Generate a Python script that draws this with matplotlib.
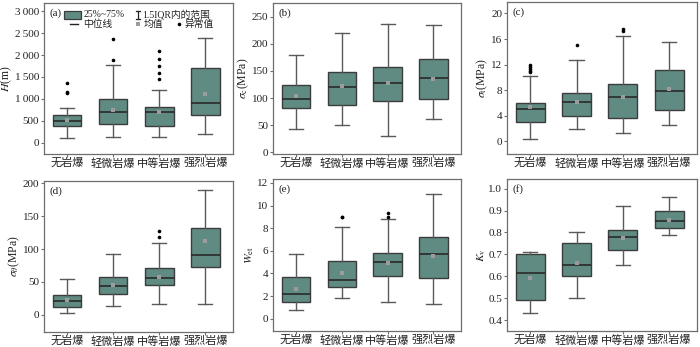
import numpy as np
import matplotlib
matplotlib.use('Agg')
import matplotlib.pyplot as plt
from matplotlib.patches import Rectangle
from matplotlib.lines import Line2D

plt.rcParams['font.family'] = ['Liberation Serif', 'Noto Sans CJK SC']
plt.rcParams['mathtext.fontset'] = 'stix'
plt.rcParams['axes.unicode_minus'] = False

# categories
classes = ['无岩爆', '轻微岩爆', '中等岩爆', '强烈岩爆']

# (a) H (m)
H_lo = [100, 120, 130, 190]
H_q1 = [370, 430, 390, 640]
H_med = [490, 700, 690, 900]
H_q3 = [620, 1000, 820, 1700]
H_hi = [800, 1770, 1200, 2400]
H_mean = [520, 750, 690, 1100]
H_fl = [[1130, 1160, 1370], [1880, 2370], [1450, 1600, 1750, 1900, 2100], []]

# (b) sigma_c (MPa)
C_lo = [43, 50, 30, 61]
C_q1 = [81, 88, 94, 98]
C_med = [99, 120, 128, 137]
C_q3 = [124, 148, 158, 172]
C_hi = [180, 220, 237, 235]
C_mean = [103, 122, 128, 136]
C_fl = [[], [], [], []]

# (c) sigma_t (MPa)
T_lo = [0.4, 1.9, 1.3, 2.5]
T_q1 = [3.0, 4.0, 3.7, 4.9]
T_med = [5.0, 6.1, 6.9, 7.8]
T_q3 = [6.0, 7.6, 8.9, 11.2]
T_hi = [10.2, 12.7, 16.4, 15.6]
T_mean = [5.4, 6.2, 6.9, 8.2]
T_fl = [[10.8, 11.0, 11.3, 11.6, 12.0], [15.1], [17.2, 17.6], []]

# (d) sigma_theta (MPa)
S_lo = [3, 14, 16, 17]
S_q1 = [12, 32, 45, 73]
S_med = [21, 44, 56, 91]
S_q3 = [30, 58, 72, 132]
S_hi = [55, 92, 109, 190]
S_mean = [23, 46, 58, 113]
S_fl = [[], [], [118, 127], []]

# (e) W_et
W_lo = [0.8, 1.8, 1.5, 1.3]
W_q1 = [1.5, 2.8, 3.8, 3.6]
W_med = [2.15, 3.4, 5.0, 5.75]
W_q3 = [3.7, 5.1, 5.8, 7.2]
W_hi = [5.7, 8.1, 8.8, 11.0]
W_mean = [2.6, 4.05, 4.9, 5.55]
W_fl = [[], [8.95, 9.0], [9.0, 9.3], []]

# (f) K_v
K_lo = [0.43, 0.50, 0.65, 0.79]
K_q1 = [0.49, 0.60, 0.72, 0.82]
K_med = [0.615, 0.65, 0.78, 0.85]
K_q3 = [0.70, 0.75, 0.81, 0.90]
K_hi = [0.71, 0.80, 0.92, 0.96]
K_mean = [0.59, 0.66, 0.775, 0.855]
K_fl = [[], [], [], []]

box_color = '#5f8b83'
edge_color = '#3c3c3c'
wh_color = '#5a5a5a'
frame_color = '#6e6e6e'
txt_color = '#222222'
mean_color = '#9c9c9c'


def make_stats(lo, q1, med, q3, hi, mean, fl):
    stats = []
    for i in range(len(lo)):
        stats.append(dict(whislo=lo[i], q1=q1[i], med=med[i], q3=q3[i],
                          whishi=hi[i], mean=mean[i], fliers=fl[i]))
    return stats


def draw_panel(ax, stats, ylim, yticks, ylabel, tag, ytlabels=None):
    ax.bxp(stats, positions=[1, 2, 3, 4], widths=0.62, patch_artist=True,
           showmeans=True,
           boxprops=dict(facecolor=box_color, edgecolor=edge_color, linewidth=1.0),
           medianprops=dict(color='#2a2a2a', linewidth=1.2),
           whiskerprops=dict(color=wh_color, linewidth=1.0),
           capprops=dict(color=wh_color, linewidth=1.0),
           meanprops=dict(marker='s', markersize=2.6, markerfacecolor=mean_color,
                          markeredgewidth=0),
           flierprops=dict(marker='o', markersize=2.6, markerfacecolor='black',
                           markeredgewidth=0))
    ax.set_xlim(0.5, 4.6)
    ax.set_ylim(*ylim)
    ax.set_yticks(yticks)
    if ytlabels is not None:
        ax.set_yticklabels(ytlabels)
    ax.set_xticks([1, 2, 3, 4])
    ax.set_xticklabels(classes, fontsize=8, color=txt_color)
    ax.tick_params(axis='y', labelsize=8, length=2, width=0.8, color=frame_color,
                   pad=1.5, labelcolor=txt_color)
    ax.tick_params(axis='x', length=2, width=0.8, color=frame_color, pad=0.8)
    for s in ax.spines.values():
        s.set_color(frame_color)
        s.set_linewidth(0.9)
    ax.set_ylabel(ylabel, fontsize=8.5, labelpad=0.5, color=txt_color)
    ax.text(0.03, 0.965, tag, transform=ax.transAxes, fontsize=8, va='top', ha='left',
            color=txt_color)


fig = plt.figure(figsize=(7.0, 3.47), dpi=100)
W, Hh = 700.0, 347.0


def add_ax(l, t, r, b):
    return fig.add_axes([l / W, 1 - b / Hh, (r - l) / W, (b - t) / Hh])


ax_a = add_ax(44, 3, 233, 154)
ax_b = add_ax(273, 3, 461, 154)
ax_c = add_ax(507, 2, 697, 154)
ax_d = add_ax(44, 181, 233, 332)
ax_e = add_ax(273, 179, 461, 331)
ax_f = add_ax(507, 179, 697, 331)

ts = '\u2009'
draw_panel(ax_a, make_stats(H_lo, H_q1, H_med, H_q3, H_hi, H_mean, H_fl),
           (-260, 3190), [0, 500, 1000, 1500, 2000, 2500, 3000], r'$H$(m)', '(a)',
           ['0', '500', '1' + ts + '000', '1' + ts + '500', '2' + ts + '000',
            '2' + ts + '500', '3' + ts + '000'])
draw_panel(ax_b, make_stats(C_lo, C_q1, C_med, C_q3, C_hi, C_mean, C_fl),
           (-3, 275), [0, 50, 100, 150, 200, 250], r'$\sigma_{\rm c}$(MPa)', '(b)')
draw_panel(ax_c, make_stats(T_lo, T_q1, T_med, T_q3, T_hi, T_mean, T_fl),
           (-2, 21.8), [0, 4, 8, 12, 16, 20], r'$\sigma_{\rm t}$(MPa)', '(c)')
draw_panel(ax_d, make_stats(S_lo, S_q1, S_med, S_q3, S_hi, S_mean, S_fl),
           (-26, 203.5), [0, 50, 100, 150, 200], r'$\sigma_{\theta}$(MPa)', '(d)')
draw_panel(ax_e, make_stats(W_lo, W_q1, W_med, W_q3, W_hi, W_mean, W_fl),
           (-1.09, 12.35), [0, 2, 4, 6, 8, 10, 12], r'$W_{\rm et}$', '(e)')
draw_panel(ax_f, make_stats(K_lo, K_q1, K_med, K_q3, K_hi, K_mean, K_fl),
           (0.35, 1.044), [0.4, 0.5, 0.6, 0.7, 0.8, 0.9, 1.0], r'$K_{\rm v}$', '(f)',
           ['0.4', '0.5', '0.6', '0.7', '0.8', '0.9', '1.0'])

# legend of panel (a)
tr = ax_a.transAxes
ax_a.add_patch(Rectangle((0.108, 0.897), 0.088, 0.052, transform=tr,
                         facecolor=box_color, edgecolor=edge_color, linewidth=0.9))
ax_a.text(0.21, 0.922, '25%~75%', transform=tr, fontsize=7, va='center', color=txt_color)
ax_a.add_line(Line2D([0.498, 0.498], [0.897, 0.949], transform=tr, color=txt_color, lw=0.9))
ax_a.add_line(Line2D([0.486, 0.510], [0.949, 0.949], transform=tr, color=txt_color, lw=0.9))
ax_a.add_line(Line2D([0.486, 0.510], [0.897, 0.897], transform=tr, color=txt_color, lw=0.9))
ax_a.text(0.522, 0.922, '1.5IQR内的范围', transform=tr, fontsize=7, va='center',
          color=txt_color)
ax_a.add_line(Line2D([0.135, 0.178], [0.858, 0.858], transform=tr, color=txt_color, lw=1.0))
ax_a.text(0.205, 0.858, '中位线', transform=tr, fontsize=7, va='center', color=txt_color)
ax_a.plot([0.498], [0.858], 's', transform=tr, ms=2.6, color=mean_color, mew=0)
ax_a.text(0.528, 0.858, '均值', transform=tr, fontsize=7, va='center', color=txt_color)
ax_a.plot([0.715], [0.858], 'o', transform=tr, ms=2.6, color='black', mew=0)
ax_a.text(0.746, 0.858, '异常值', transform=tr, fontsize=7, va='center', color=txt_color)

fig.savefig('out.png', dpi=100)
